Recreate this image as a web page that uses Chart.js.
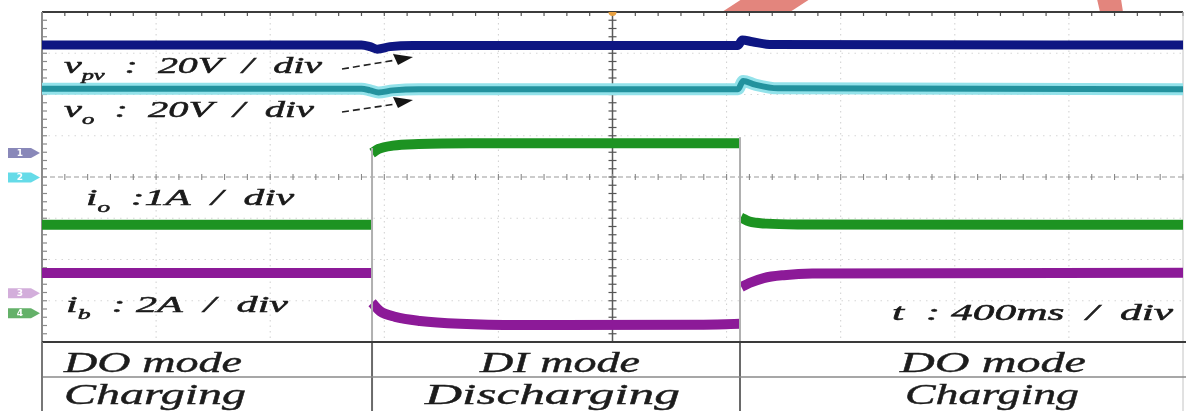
<!DOCTYPE html>
<html><head><meta charset="utf-8">
<script src="https://cdn.jsdelivr.net/npm/chart.js@4.4.1/dist/chart.umd.min.js"></script>
<style>html,body{margin:0;padding:0;background:#fff;overflow:hidden}canvas{display:block}</style>
</head><body><canvas id="c" width="1186" height="411"></canvas>
<script>
// ---- data (time in ms, amplitude in screen divisions) ----
const vPvTrace = [[0,7.20],[1120,7.20],[1150,7.16],[1175,7.10],[1220,7.16],[1300,7.19],[2440,7.19],[2455,7.32],[2490,7.28],[2560,7.21],[4000,7.20]];
const vOTrace  = [[0,6.14],[1120,6.14],[1150,6.10],[1180,6.05],[1230,6.10],[1320,6.13],[2440,6.13],[2458,6.33],[2500,6.24],[2580,6.15],[4000,6.13]];
const iOTrace  = [[0,2.84],[1155,2.84],[1156,null],[1157,4.58],[1180,4.68],[1230,4.76],[1320,4.80],[1500,4.82],[2447,4.82],[2448,null],[2450,3.02],[2480,2.92],[2540,2.87],[2650,2.85],[4000,2.84]];
const iBTrace  = [[0,1.67],[1155,1.67],[1156,null],[1157,0.95],[1185,0.75],[1238,0.61],[1325,0.51],[1465,0.44],[1676,0.41],[2300,0.42],[2447,0.44],[2448,null],[2452,1.33],[2480,1.43],[2530,1.55],[2600,1.62],[2700,1.66],[4000,1.68]];
const modeBounds = [0,1157,2447,4000];
const modeNames  = ['DO mode','DI mode','DO mode'];
const modeStates = ['Charging','Discharging','Charging'];
const channelLabels = [
  [{t:'v'},{t:'pv',sub:1},{t:'  :  20V  /  div'}],
  [{t:'v'},{t:'o',sub:1},{t:'  :  20V  /  div'}],
  [{t:'i'},{t:'o',sub:1},{t:'  :1A  /  div'}],
  [{t:'i'},{t:'b',sub:1},{t:'  : 2A  /  div'}]
];
const timeBaseLabel = [{t:'t  : 400ms  /  div'}];
const channelMarkers = ['1','2','3','4'];
const xDivs = 10, yDivs = 8, msPerDiv = 400;

const toXY = a => a.map(p => ({x:p[0], y:p[1]}));

function richText(ctx, runs, x, base, targetW, size, color, weight){
  ctx.save();
  const fm = `italic ${size}px "Liberation Serif","DejaVu Serif",serif`;
  const fs = `italic ${Math.round(size*0.62)}px "Liberation Serif","DejaVu Serif",serif`;
  let w = 0;
  runs.forEach(r => { ctx.font = r.sub ? fs : fm; w += ctx.measureText(r.t).width; });
  const sx = targetW / w;
  ctx.translate(x, base); ctx.scale(sx, 1);
  ctx.fillStyle = color; ctx.strokeStyle = color; ctx.lineWidth = weight || 0.5;
  ctx.textBaseline = 'alphabetic'; ctx.textAlign = 'left';
  let cx = 0;
  runs.forEach(r => {
    ctx.font = r.sub ? fs : fm;
    const dy = r.sub ? size*0.3 : 0;
    ctx.fillText(r.t, cx, dy); ctx.strokeText(r.t, cx, dy);
    cx += ctx.measureText(r.t).width;
  });
  ctx.restore();
}

function line(ctx, x1, y1, x2, y2, color, w, dash){
  ctx.save(); ctx.beginPath(); ctx.strokeStyle = color; ctx.lineWidth = w;
  ctx.setLineDash(dash || []); ctx.moveTo(x1, y1); ctx.lineTo(x2, y2); ctx.stroke(); ctx.restore();
}

const scopePlugin = {
  id: 'scope',
  beforeDraw(chart){
    const ctx = chart.ctx, top = chart.chartArea.top;
    ctx.save(); ctx.fillStyle = '#fff'; ctx.fillRect(0, 0, chart.width, chart.height);
    ctx.beginPath(); ctx.rect(0, 0, chart.width, top - 1); ctx.clip();
    ctx.fillStyle = '#e3857d';
    ctx.beginPath(); ctx.moveTo(722, 12); ctx.lineTo(742, -1); ctx.lineTo(810, -1); ctx.lineTo(790, 12); ctx.closePath(); ctx.fill();
    ctx.beginPath(); ctx.moveTo(1097, -1); ctx.lineTo(1121, -1); ctx.lineTo(1123, 12); ctx.lineTo(1100, 12); ctx.closePath(); ctx.fill();
    ctx.restore();
  },
  beforeDatasetsDraw(chart){
    const ctx = chart.ctx, xs = chart.scales.x, ys = chart.scales.y;
    const {left, right, top, bottom} = chart.chartArea;
    for (let i = 1; i < xDivs; i++){
      if (i === xDivs/2) continue;
      const x = xs.getPixelForValue(i*msPerDiv);
      line(ctx, x, top, x, bottom, '#cfcfcf', 1, [1.5, 4]);
    }
    for (let j = 1; j < yDivs; j++){
      if (j === yDivs/2) continue;
      const y = ys.getPixelForValue(j);
      line(ctx, left, y, right, y, '#d6d6d6', 1, [1.5, 5]);
    }
    const cx = xs.getPixelForValue(xDivs/2*msPerDiv), cy = ys.getPixelForValue(yDivs/2);
    line(ctx, cx, top, cx, bottom, '#5a5a5a', 1.5);
    line(ctx, left, cy, right, cy, '#999', 1.1, [5, 3]);
    for (let k = 0; k <= yDivs*5; k++){
      const y = ys.getPixelForValue(k/5);
      line(ctx, cx-4, y, cx+4, y, '#555', 1.2);
      line(ctx, left, y, left+5, y, '#8a8a8a', 1.2);
    }
    for (let k = 0; k <= xDivs*5; k++){
      const x = xs.getPixelForValue(k*msPerDiv/5);
      line(ctx, x, cy-3, x, cy+3, '#888', 1.1);
      line(ctx, x, top, x, top+4, '#555', 1.2);
    }
    line(ctx, left, top, right, top, '#3c3c3c', 2);
    line(ctx, left, top, left, chart.height, '#8a8a8a', 2);
    line(ctx, right, top, right, chart.height, '#c4c4c4', 1);
    ctx.save(); ctx.fillStyle = '#e8a040';
    ctx.beginPath(); ctx.arc(cx, top, 4, 0, Math.PI); ctx.fill(); ctx.restore();
  },
  afterDatasetsDraw(chart){
    const ctx = chart.ctx, xs = chart.scales.x, ys = chart.scales.y;
    const {left, right, top, bottom} = chart.chartArea;
    const H = chart.height, W = chart.width;
    const x1 = xs.getPixelForValue(modeBounds[1]), x2 = xs.getPixelForValue(modeBounds[2]);
    line(ctx, x1, ys.getPixelForValue(4.58)-5, x1, bottom, '#b0b0b0', 2);
    line(ctx, x2, ys.getPixelForValue(4.82)-6, x2, bottom, '#b0b0b0', 2);
    line(ctx, x1, bottom, x1, H, '#6a6a6a', 2);
    line(ctx, x2, bottom, x2, H, '#6a6a6a', 2);
    const rowY = bottom + 35;
    line(ctx, left, bottom, W, bottom, '#3a3a3a', 2);
    line(ctx, left, rowY, W, rowY, '#8a8a8a', 1.5);
    line(ctx, left, bottom, left, H, '#777', 2);
    const txt = '#1c1c1c';
    richText(ctx, [{t:modeNames[0]}], 64, 372, 178, 29, txt, 0.4);
    richText(ctx, [{t:modeStates[0]}], 64, 404, 182, 29, txt, 0.4);
    richText(ctx, [{t:modeNames[1]}], 480, 372, 160, 29, txt, 0.4);
    richText(ctx, [{t:modeStates[1]}], 425, 404, 255, 29, txt, 0.4);
    richText(ctx, [{t:modeNames[2]}], 900, 372, 186, 29, txt, 0.4);
    richText(ctx, [{t:modeStates[2]}], 905, 404, 174, 29, txt, 0.4);
    const lc = '#1a1a1a';
    richText(ctx, channelLabels[0], 64, 73, 258, 23, lc, 0.5);
    richText(ctx, channelLabels[1], 64, 117, 250, 23, lc, 0.5);
    richText(ctx, channelLabels[2], 86, 205, 208, 23, lc, 0.5);
    richText(ctx, channelLabels[3], 66, 312, 222, 23, lc, 0.5);
    richText(ctx, timeBaseLabel, 892, 320, 281, 23, lc, 0.5);
    [[69,60,57],[112,104,100]].forEach(a => {
      line(ctx, 342, a[0], 396, a[1], '#222', 1.6, [7, 4]);
      ctx.save(); ctx.fillStyle = '#151515'; ctx.beginPath();
      ctx.moveTo(413, a[2]); ctx.lineTo(393, a[2]-3); ctx.lineTo(398, a[2]+8); ctx.closePath(); ctx.fill(); ctx.restore();
    });
    const mk = [[ys.getPixelForValue(4.58), '#6b6aa8'], [ys.getPixelForValue(3.99), '#3fd2e2'], [ys.getPixelForValue(1.18), '#c89ad2'], [ys.getPixelForValue(0.7), '#3d9d44']];
    mk.forEach((m, i) => {
      const y = m[0];
      ctx.save(); ctx.fillStyle = m[1]; ctx.globalAlpha = 0.8;
      ctx.beginPath(); ctx.moveTo(8, y-5); ctx.lineTo(31, y-5); ctx.lineTo(40, y); ctx.lineTo(31, y+5); ctx.lineTo(8, y+5); ctx.closePath(); ctx.fill();
      ctx.globalAlpha = 1; ctx.fillStyle = '#fff'; ctx.font = 'bold 9px "DejaVu Sans",sans-serif';
      ctx.textAlign = 'center'; ctx.textBaseline = 'middle'; ctx.fillText(channelMarkers[i], 20, y+0.5);
      ctx.restore();
    });
  }
};

const common = {pointRadius:0, fill:false, tension:0, cubicInterpolationMode:'monotone', spanGaps:false, borderCapStyle:'butt', borderJoinStyle:'round'};
new Chart(document.getElementById('c'), {
  type: 'line',
  data: {
    datasets: [
      Object.assign({label:'v_pv', data:toXY(vPvTrace), borderColor:'#0e1682', borderWidth:9, order:1}, common),
      Object.assign({label:'v_o', data:toXY(vOTrace), borderColor:'#23929e', borderWidth:6, order:0}, common),
      Object.assign({label:'v_o halo', data:toXY(vOTrace), borderColor:'#93e2ea', borderWidth:12, order:5}, common),
      Object.assign({label:'i_o', data:toXY(iOTrace), borderColor:'#1d9322', borderWidth:10, order:1}, common),
      Object.assign({label:'i_b', data:toXY(iBTrace), borderColor:'#8c1a98', borderWidth:10, order:1}, common)
    ]
  },
  options: {
    responsive:false, animation:false, devicePixelRatio:1,
    layout:{padding:{left:42, right:3, top:12, bottom:69}},
    scales:{
      x:{type:'linear', min:0, max:xDivs*msPerDiv, display:false},
      y:{type:'linear', min:0, max:yDivs, display:false}
    },
    plugins:{legend:{display:false}, tooltip:{enabled:false}},
    elements:{line:{borderCapStyle:'butt'}}
  },
  plugins:[scopePlugin]
});
</script></body></html>
